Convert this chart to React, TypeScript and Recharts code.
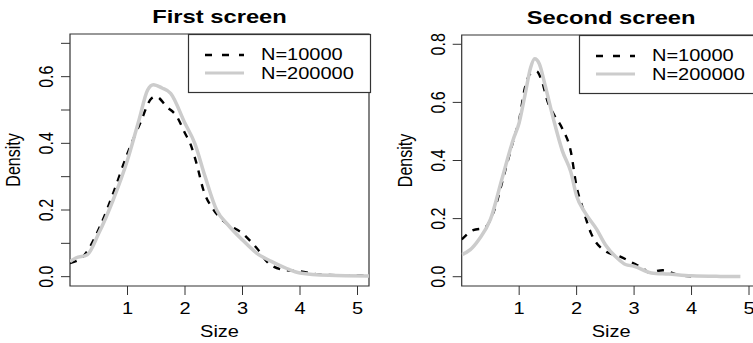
import React from 'react';
import { LineChart, Line, XAxis, YAxis, ReferenceArea, Legend, Label } from 'recharts';

const FONT = '"Liberation Sans", Arial, Helvetica, sans-serif';
// the reference is stretched sideways, so text gets the same stretch
const STRETCH = 1.25;

const seriesNames = ['N=10000', 'N=200000'];
const sizeTicks = [1, 2, 3, 4, 5];

// First screen
const firstSize10k = [0, 0.23, 0.52, 0.75, 1.0, 1.22, 1.42, 1.5, 1.68, 1.86, 2.0, 2.09, 2.2, 2.32, 2.5, 2.72, 3.0, 3.25, 3.48, 3.77, 4.0, 4.35, 4.8, 5.2];
const firstDensity10k = [0.041, 0.061, 0.15, 0.25, 0.37, 0.46, 0.535, 0.54, 0.51, 0.48, 0.43, 0.4, 0.34, 0.26, 0.2, 0.16, 0.13, 0.085, 0.036, 0.019, 0.016, 0.006, 0.004, 0.003];
const firstSize200k = [0, 0.1, 0.3, 0.5, 0.75, 1.0, 1.2, 1.35, 1.45, 1.6, 1.75, 2.0, 2.17, 2.35, 2.55, 2.75, 3.0, 3.25, 3.5, 3.75, 4.0, 4.5, 5.2];
const firstDensity200k = [0.045, 0.056, 0.066, 0.13, 0.23, 0.35, 0.47, 0.56, 0.576, 0.566, 0.55, 0.46, 0.4, 0.3, 0.2, 0.155, 0.11, 0.07, 0.046, 0.026, 0.011, 0.004, 0.002];
const firstDensityTicks = [0, 0.1, 0.2, 0.3, 0.4, 0.5, 0.6, 0.7];
const firstDensityLabels = [0, 0.2, 0.4, 0.6];

// Second screen
const secondSize10k = [0, 0.2, 0.4, 0.55, 0.75, 0.9, 1.0, 1.1, 1.2, 1.3, 1.4, 1.5, 1.6, 1.75, 1.9, 2.0, 2.1, 2.25, 2.5, 2.75, 3.0, 3.15, 3.25, 3.5, 3.75, 4.0, 4.1];
const secondDensity10k = [0.128, 0.16, 0.168, 0.22, 0.36, 0.47, 0.54, 0.65, 0.7, 0.707, 0.67, 0.6, 0.56, 0.51, 0.43, 0.31, 0.24, 0.15, 0.088, 0.07, 0.045, 0.03, 0.015, 0.022, 0.007, 0.001, 0.0];
const secondSize200k = [0, 0.15, 0.3, 0.5, 0.7, 0.9, 1.0, 1.1, 1.2, 1.27, 1.35, 1.45, 1.6, 1.75, 1.9, 2.0, 2.15, 2.35, 2.5, 2.7, 2.85, 3.0, 3.3, 3.6, 4.0, 4.5, 4.85];
const secondDensity200k = [0.076, 0.093, 0.128, 0.197, 0.336, 0.474, 0.53, 0.624, 0.72, 0.75, 0.733, 0.66, 0.54, 0.434, 0.36, 0.278, 0.22, 0.163, 0.11, 0.065, 0.042, 0.036, 0.013, 0.009, 0.003, 0.001, 0.0005];
const secondDensityTicks = [0, 0.2, 0.4, 0.6, 0.8];
const secondDensityLabels = [0, 0.2, 0.4, 0.6, 0.8];

const toPoints = (sizes: number[], dens: number[]) => sizes.map((s, i) => ({ size: s, density: dens[i] }));

const XTick = (props: any) => {
  const { x, y, payload } = props;
  return (
    <text transform={`translate(${x},${y + 19}) scale(${STRETCH},1)`} textAnchor="middle" fontSize={16} fontFamily={FONT} fill="#000">
      {payload.value}
    </text>
  );
};

const makeYTick = (labels: number[]) => (props: any) => {
  const { x, y, payload } = props;
  if (!labels.some((v) => Math.abs(v - payload.value) < 1e-9)) return <g />;
  return (
    <text transform={`translate(${x - 8},${y}) rotate(-90) scale(1,${STRETCH})`} textAnchor="middle" fontSize={16} fontFamily={FONT} fill="#000">
      {payload.value.toFixed(1)}
    </text>
  );
};

const LegendBox = () => (
  <svg width={182} height={59} style={{ display: 'block', overflow: 'visible' }}>
    <rect x={0.5} y={0.5} width={182} height={58} fill="#fff" stroke="#333" strokeWidth={1.2} />
    <line x1={17} x2={56} y1={21} y2={21} stroke="#000" strokeWidth={2.4} strokeDasharray="7 10" />
    <line x1={17} x2={56} y1={39} y2={39} stroke="#cccccc" strokeWidth={3} />
    <text transform={`translate(73,26) scale(${STRETCH},1)`} fontSize={16} fontFamily={FONT} fill="#000">{seriesNames[0]}</text>
    <text transform={`translate(73,45) scale(${STRETCH},1)`} fontSize={16} fontFamily={FONT} fill="#000">{seriesNames[1]}</text>
  </svg>
);

interface PanelProps {
  title: string;
  data10k: { size: number; density: number }[];
  data200k: { size: number; density: number }[];
  yDomain: [number, number];
  yTicks: number[];
  yLabels: number[];
  left: number;
  width: number;
  margin: { top: number; right: number; bottom: number; left: number };
  legendPos: { left: number; top: number };
}

const Panel = ({ title, data10k, data200k, yDomain, yTicks, yLabels, left, width, margin, legendPos }: PanelProps) => (
  <div style={{ position: 'absolute', left, top: 0 }}>
    <LineChart width={width} height={343} margin={margin}>
      <XAxis
        dataKey="size"
        type="number"
        domain={[0, 5.2]}
        allowDataOverflow
        ticks={sizeTicks}
        tick={<XTick />}
        tickSize={9}
        tickMargin={0}
        height={50}
        axisLine={false}
        tickLine={{ stroke: '#333' }}
      >
        <Label
          content={(p: any) => {
            const vb = p.viewBox;
            return (
              <g>
                <text transform={`translate(${vb.x + vb.width / 2},${vb.y + 50.5}) scale(${STRETCH},1)`} textAnchor="middle" fontSize={16} fontFamily={FONT} fill="#000">
                  Size
                </text>
                <text transform={`translate(${vb.x + vb.width / 2},${margin.top - 11}) scale(${STRETCH},1)`} textAnchor="middle" fontSize={19} fontWeight="bold" fontFamily={FONT} fill="#000">
                  {title}
                </text>
              </g>
            );
          }}
        />
      </XAxis>
      <YAxis
        dataKey="density"
        type="number"
        domain={yDomain}
        allowDataOverflow
        ticks={yTicks}
        tick={makeYTick(yLabels)}
        tickSize={9}
        tickMargin={0}
        width={60}
        axisLine={false}
        tickLine={{ stroke: '#333' }}
      >
        <Label
          content={(p: any) => {
            const vb = p.viewBox;
            return (
              <text transform={`translate(${vb.x + vb.width - 50},${vb.y + vb.height / 2}) rotate(-90) scale(1,${STRETCH})`} textAnchor="middle" fontSize={16} fontFamily={FONT} fill="#000">
                Density
              </text>
            );
          }}
        />
      </YAxis>
      <ReferenceArea x1={0} x2={5.2} y1={yDomain[0]} y2={yDomain[1]} fill="none" fillOpacity={0} stroke="#333" strokeWidth={1.2} ifOverflow="visible" />
      <Line data={data10k} dataKey="density" name={seriesNames[0]} type="monotone" stroke="#000" strokeWidth={2.4} strokeDasharray="7 7" dot={false} isAnimationActive={false} />
      <Line data={data200k} dataKey="density" name={seriesNames[1]} type="monotone" stroke="#cccccc" strokeWidth={3.5} dot={false} isAnimationActive={false} />
      <Legend
        layout="horizontal"
        verticalAlign="middle"
        align="center"
        content={() => <LegendBox />}
        wrapperStyle={{ position: 'absolute', left: legendPos.left, top: legendPos.top, width: 183, height: 60, right: 'auto', bottom: 'auto' }}
      />
    </LineChart>
  </div>
);

export default function App() {
  return (
    <div style={{ position: 'absolute', left: 0, top: 0, width: 753, height: 343, overflow: 'hidden', background: '#fff' }}>
      <Panel
        title="First screen"
        data10k={toPoints(firstSize10k, firstDensity10k)}
        data200k={toPoints(firstSize200k, firstDensity200k)}
        yDomain={[-0.028, 0.728]}
        yTicks={firstDensityTicks}
        yLabels={firstDensityLabels}
        left={0}
        width={380}
        margin={{ top: 34, right: 11, bottom: 7, left: 10 }}
        legendPos={{ left: 188, top: 34 }}
      />
      <Panel
        title="Second screen"
        data10k={toPoints(secondSize10k, secondDensity10k)}
        data200k={toPoints(secondSize200k, secondDensity200k)}
        yDomain={[-0.032, 0.832]}
        yTicks={secondDensityTicks}
        yLabels={secondDensityLabels}
        left={380}
        width={400}
        margin={{ top: 35, right: 19.5, bottom: 7, left: 21.7 }}
        legendPos={{ left: 199, top: 35 }}
      />
    </div>
  );
}
